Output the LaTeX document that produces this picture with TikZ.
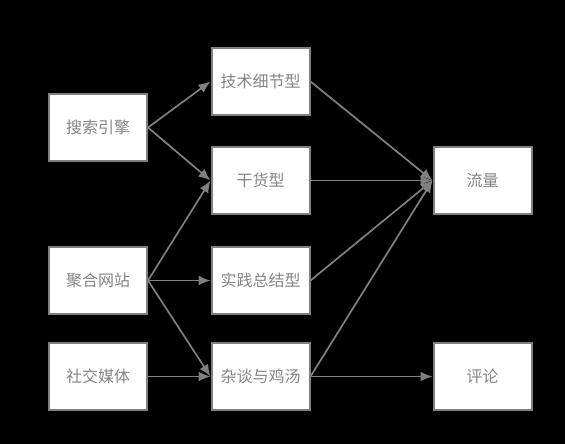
\documentclass[tikz,border=0pt]{standalone}
\usepackage{fontspec}
\setmainfont{Noto Sans CJK SC}
\usepackage{tikz}
\usetikzlibrary{arrows.meta,shapes}

\definecolor{boxgray}{HTML}{808080}
\definecolor{textgray}{HTML}{858585}

\begin{document}
\begin{tikzpicture}[x=1pt,y=-1pt]
	
	\tikzset{vertex/.style = {shape=rectangle,draw=boxgray,fill=white,line width=2pt,
		minimum width=98pt,minimum height=67pt,text=textgray,font=\fontsize{16}{18}\selectfont}}
	\tikzset{edge/.style = {->,> = {Latex[length=12pt,width=10pt]},draw=boxgray,line width=1.7pt}}
	
	\fill[black] (0,0) rectangle (565,444);
	
	\node[vertex] (a1) at  (98,127.5) {搜索引擎};
	\node[vertex] (a2) at  (98,280.5) {聚合网站};
	\node[vertex] (a3) at  (98,376.5) {社交媒体};
	
	\node[vertex] (b1) at  (260.5,81.5) {技术细节型};
	\node[vertex] (b2) at  (260.5,180.5) {干货型};
	\node[vertex] (b3) at  (260.5,280.5) {实践总结型};
	\node[vertex] (b4) at  (260.5,376.5) {杂谈与鸡汤};
	
	\node[vertex] (c1) at  (482.5,180.5) {流量};
	\node[vertex] (c2) at  (482.5,376.5) {评论};
	
	\draw[edge] (a1.east) to (b1.west);
	\draw[edge] (a1.east) to (b2.west);
	\draw[edge] (a2.east) to (b2.west);
	\draw[edge] (a2.east) to (b3.west);
	\draw[edge] (a2.east) to (b4.west);
	\draw[edge] (a3.east) to (b4.west);
	
	\draw[edge] (b1.east) to (c1.west);
	\draw[edge] (b2.east) to (c1.west);
	\draw[edge] (b3.east) to (c1.west);
	\draw[edge] (b4.east) to (c1.west);
	\draw[edge] (b4.east) to (c2.west);
	\end{tikzpicture}
\end{document}
